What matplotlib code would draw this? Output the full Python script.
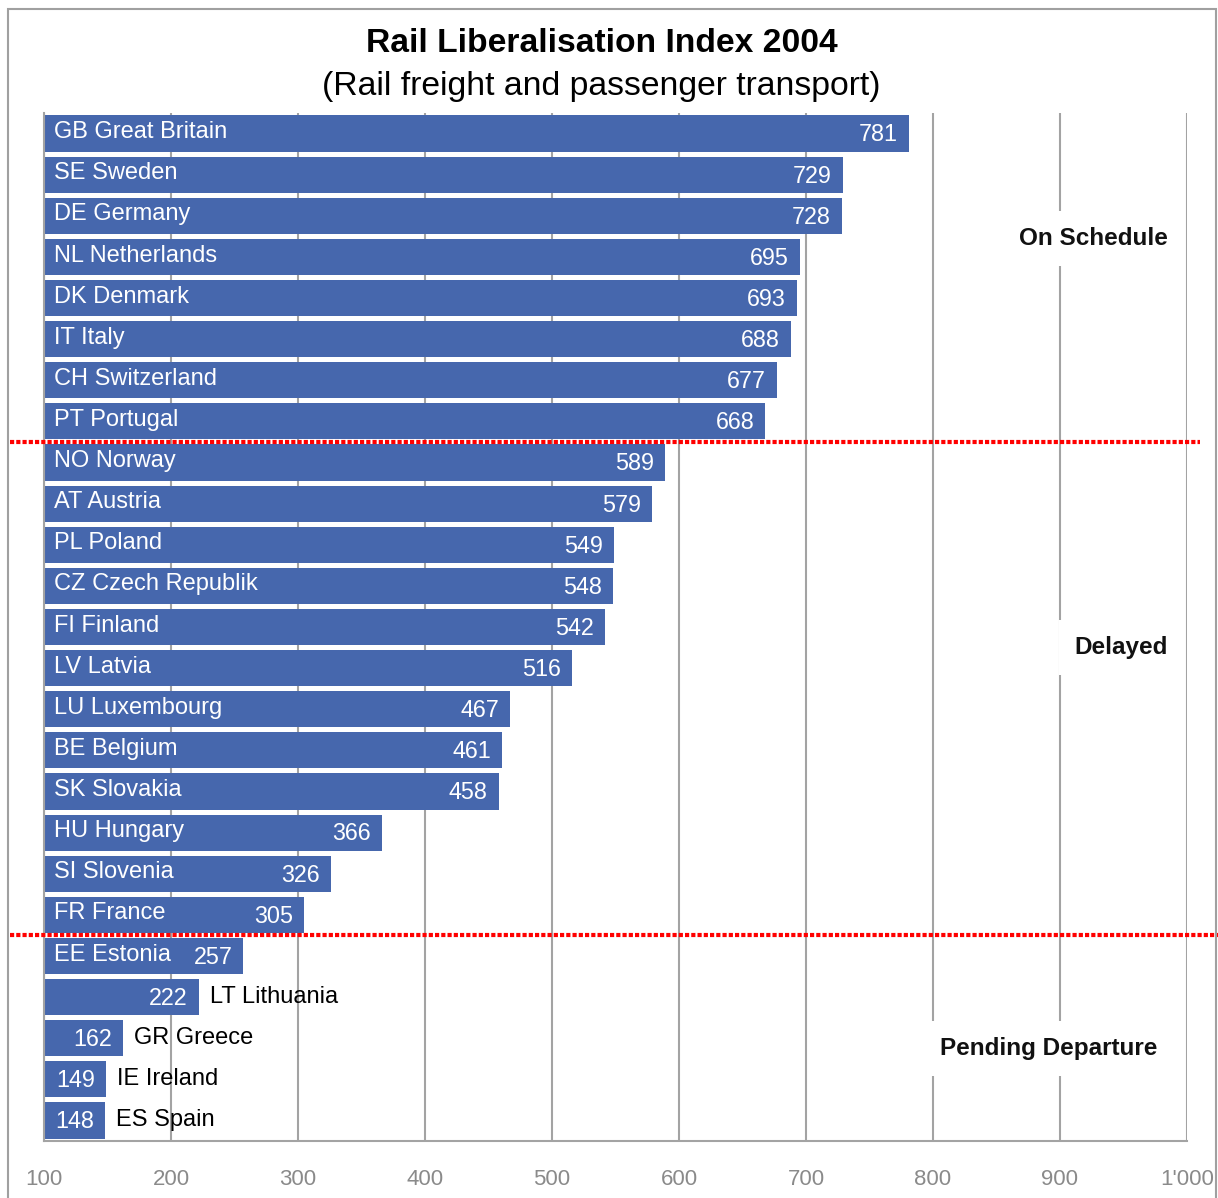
import numpy as np
import matplotlib.pyplot as plt
import matplotlib.transforms as mtransforms
from matplotlib.lines import Line2D
from matplotlib.patches import Rectangle

plt.rcParams['font.family'] = ['Liberation Sans', 'DejaVu Sans']

# Rail Liberalisation Index 2004, ranked
countries = ['GB Great Britain', 'SE Sweden', 'DE Germany', 'NL Netherlands',
             'DK Denmark', 'IT Italy', 'CH Switzerland', 'PT Portugal',
             'NO Norway', 'AT Austria', 'PL Poland', 'CZ Czech Republik',
             'FI Finland', 'LV Latvia', 'LU Luxembourg', 'BE Belgium',
             'SK Slovakia', 'HU Hungary', 'SI Slovenia', 'FR France',
             'EE Estonia', 'LT Lithuania', 'GR Greece', 'IE Ireland', 'ES Spain']
scores = [781, 729, 728, 695, 693, 688, 677, 668,
          589, 579, 549, 548, 542, 516, 467, 461, 458, 366, 326, 305,
          257, 222, 162, 149, 148]
# names of the short bars are written next to the bar instead of inside it
outside_names = ['LT Lithuania', 'GR Greece', 'IE Ireland', 'ES Spain']

groups = ['On Schedule', 'Delayed', 'Pending Departure']
group_label_y = [2.55, 12.5, 22.25]
group_label_x = [985, 985, 977]
group_breaks = [7.5, 19.5]

base = 100
xticks = [100, 200, 300, 400, 500, 600, 700, 800, 900, 1000]
xtick_labels = ['100', '200', '300', '400', '500', '600', '700', '800', '900', "1'000"]

BAR = '#4667ad'
GRID = '#a3a3a3'

fig = plt.figure(figsize=(12.18, 11.98), dpi=100)
ax = fig.add_axes([44 / 1218, 1 - 1141 / 1198, 1143 / 1218, 1028 / 1198])

y = np.arange(len(countries))
vals = np.array(scores)
ax.barh(y, vals - base, left=base, height=0.88, color=BAR, zorder=2)

for i, (name, v) in enumerate(zip(countries, scores)):
    ax.annotate(str(v), (v, i), xytext=(-8, -1), textcoords='offset points',
                ha='right', va='center', color='white', fontsize=16.8, zorder=3)
    if name in outside_names:
        ax.annotate(name, (v, i), xytext=(8, 0), textcoords='offset points',
                    ha='left', va='center', color='black', fontsize=17, zorder=3)
    else:
        ax.annotate(name, (base, i), xytext=(7, 1), textcoords='offset points',
                    ha='left', va='center', color='white', fontsize=17, zorder=3)

ax.set_xlim(100, 1000)
ax.set_ylim(len(countries) - 0.5, -0.5)
ax.set_xticks(xticks)
ax.set_xticklabels(xtick_labels)
ax.set_yticks([])
ax.tick_params(axis='x', length=0, pad=20, labelsize=16, labelcolor='#8a8a8a')
ax.grid(axis='x', color=GRID, lw=1.5, zorder=0)
ax.set_axisbelow(True)
for side in ['top', 'right']:
    ax.spines[side].set_visible(False)
for side in ['left', 'bottom']:
    ax.spines[side].set_color(GRID)
    ax.spines[side].set_linewidth(1.5)

# group captions sit on a white box that hides the gridlines behind them
for g, gx, gy in zip(groups, group_label_x, group_label_y):
    ax.text(gx, gy, g, ha='right', va='center', fontsize=17.5, fontweight='bold',
            color='#111111', zorder=4,
            bbox=dict(boxstyle='square,pad=0.65', fc='white', ec='none'))

# red dotted separators between the groups, running past the axes
trans = mtransforms.blended_transform_factory(fig.transFigure, ax.transData)
for yb, x_end in zip(group_breaks, [1200 / 1218, 1.0]):
    ax.add_line(Line2D([10 / 1218, x_end], [yb, yb], transform=trans, color='#ff0000',
                       lw=3, ls=(0, (1, 0.5)), clip_on=False, zorder=5))

fig.text(602 / 1218, 1 - 52 / 1198, 'Rail Liberalisation Index 2004', ha='center',
         va='baseline', fontsize=24.2, fontweight='bold', color='black')
fig.text(601 / 1218, 1 - 95 / 1198, '(Rail freight and passenger transport)', ha='center',
         va='baseline', fontsize=24.3, color='black')

# outer chart frame
fig.patches.append(Rectangle((8 / 1218, -0.02), 1208 / 1218, 1 - 9 / 1198 + 0.02,
                             transform=fig.transFigure, fill=False, ec='#a0a0a0', lw=1.5))

fig.savefig('out.png', dpi=100)
